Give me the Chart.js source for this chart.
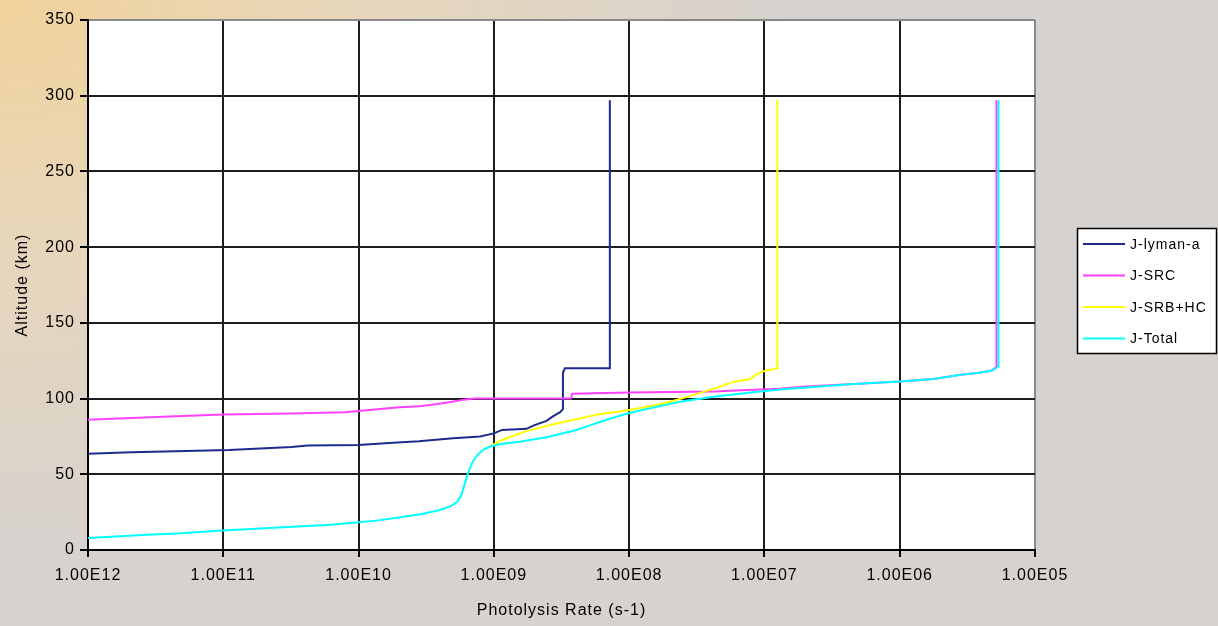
<!DOCTYPE html>
<html>
<head>
<meta charset="utf-8">
<title>Photolysis Rate vs Altitude</title>
<script src="https://cdn.jsdelivr.net/npm/chart.js@4"></script>
<style>
  html, body { margin: 0; padding: 0; overflow: hidden; }
  body {
    width: 1218px; height: 626px;
    background: radial-gradient(ellipse 800px 560px at 0% 0%, #f1d39b 0%, #e7d6bb 45%, #d6d2cf 100%);
  }
  #wrap { position: relative; width: 1218px; height: 626px; }
</style>
</head>
<body>
<div id="wrap"><canvas id="chart"></canvas></div>
<script>
/* ---------- data ---------- */
const X_TICKS = [1e-12, 1e-11, 1e-10, 1e-9, 1e-8, 1e-7, 1e-6, 1e-5];
const X_LABELS = ['1.00E12', '1.00E11', '1.00E10', '1.00E09', '1.00E08', '1.00E07', '1.00E06', '1.00E05'];
const Y_TICKS = [0, 50, 100, 150, 200, 250, 300, 350];

const SERIES_NAMES = ['J-lyman-a', 'J-SRC', 'J-SRB+HC', 'J-Total'];

// J-lyman-a (photolysis rate s-1, altitude km)
const lymanRate = [7.2e-9, 7.2e-9, 3.35e-9, 3.24e-9, 3.24e-9, 3.09e-9, 2.75e-9, 2.45e-9, 2.0e-9, 1.74e-9,
  1.15e-9, 1.0e-9, 7.9e-10, 5.0e-10, 3.55e-10, 2.8e-10, 1.8e-10, 1.0e-10, 4.2e-11, 3.2e-11,
  2.24e-11, 1.1e-11, 2.1e-12, 1e-12];
const lymanAlt = [297, 120, 120, 117, 93, 91, 88.4, 85.3, 82.5, 80,
  79.3, 77, 75, 73.8, 72.6, 71.8, 70.8, 69.3, 69, 68,
  67.3, 66, 64.5, 63.5];

// J-SRC
const srcRate = [1e-12, 3.55e-12, 1e-11, 3.16e-11, 7.9e-11, 1.32e-10, 2.0e-10, 2.82e-10, 3.72e-10, 4.8e-10,
  6.0e-10, 7.1e-10, 3.72e-9, 3.8e-9, 1.0e-8, 4.37e-8, 5.5e-8, 1.29e-7, 2.0e-7, 4.27e-7,
  1.0e-6, 1.78e-6, 2.82e-6, 3.89e-6, 4.79e-6, 5.19e-6, 5.19e-6];
const srcAlt = [86, 88, 89.5, 90.2, 91, 92.8, 94.3, 95, 96.3, 97.8,
  99.3, 100, 100, 103.2, 104, 104.6, 105.2, 106.5, 108, 109.5,
  111.3, 113, 115.8, 117, 118.5, 121, 297];

// J-SRB+HC
const srbRate = [9.3e-10, 1.17e-9, 1.74e-9, 2.75e-9, 4.07e-9, 6.0e-9, 1.0e-8, 1.7e-8, 2.5e-8, 4.47e-8,
  5.9e-8, 7.76e-8, 8.7e-8, 1.0e-7, 1.245e-7, 1.245e-7];
const srbAlt = [68.2, 73, 78.5, 83, 86.3, 89.6, 92.5, 96.2, 100.3, 107.2,
  111, 112.7, 116, 118.2, 120, 297];

// J-Total
const totalRate = [1e-12, 2.75e-12, 4.9e-12, 8.5e-12, 1.38e-11, 3.24e-11, 6.3e-11, 8.7e-11, 1.35e-10, 2.04e-10,
  2.95e-10, 3.98e-10, 4.8e-10, 5.4e-10, 5.8e-10, 6.1e-10, 6.5e-10, 7.0e-10, 7.6e-10, 8.4e-10,
  9.3e-10, 1.12e-9, 1.55e-9, 2.45e-9, 3.9e-9, 5.0e-9, 6.8e-9, 1.0e-8, 1.48e-8, 2.5e-8,
  4.37e-8, 7.9e-8, 1.32e-7, 1.82e-7, 4.27e-7, 1.0e-6, 1.78e-6, 2.82e-6, 3.89e-6, 4.79e-6,
  5.37e-6, 5.37e-6];
const totalAlt = [8, 10, 11, 12.5, 13.6, 15.4, 16.7, 17.8, 19.4, 21.6,
  23.8, 26.4, 29, 32, 37, 44, 52, 58.5, 63, 66.3,
  68.2, 70, 71.5, 74.5, 78.8, 82, 86, 90.5, 94, 98.3,
  101.3, 104, 106, 107, 109.5, 111.3, 113, 115.8, 117, 118.5,
  121, 297];

const COLORS = ['#1c2a8c', '#ff40ff', '#ffff00', '#00ffff'];

/* ---------- helpers ---------- */
function pts(xs, ys){ return xs.map((x, i) => ({ x, y: ys[i] })); }

const FONT = "'Liberation Sans', Arial, sans-serif";

const framePlugin = {
  id: 'frame',
  beforeUpdate(chart){ chart.ctx.letterSpacing = '1px'; },
  beforeDraw(chart){
    const { ctx, chartArea: a } = chart;
    ctx.letterSpacing = '1px';
    ctx.save();
    ctx.fillStyle = '#ffffff';
    ctx.fillRect(a.left, a.top, a.right - a.left, a.bottom - a.top);
    ctx.restore();
  },
  afterDraw(chart){
    // legend box, drawn by hand so it sits where the original one does
    const ctx = chart.ctx;
    ctx.save();
    ctx.fillStyle = '#ffffff';
    ctx.fillRect(1077, 228, 140, 126);
    ctx.strokeStyle = '#000';
    ctx.lineWidth = 1.5;
    ctx.strokeRect(1077.5, 228.5, 139, 125);
    ctx.font = '14px ' + FONT;
    ctx.textBaseline = 'middle';
    ctx.fillStyle = '#000';
    chart.data.datasets.forEach((ds, i) => {
      const y = 244 + i * 31.5;
      ctx.strokeStyle = ds.borderColor;
      ctx.lineWidth = 2;
      ctx.beginPath(); ctx.moveTo(1083, y); ctx.lineTo(1125, y); ctx.stroke();
      ctx.fillText(ds.label, 1130, y + 1);
    });
    ctx.restore();
  }
};

const rates = [lymanRate, srcRate, srbRate, totalRate];
const alts = [lymanAlt, srcAlt, srbAlt, totalAlt];
const drawOrder = [3, 2, 1, 0]; // J-Total on top

new Chart(document.getElementById('chart'), {
  type: 'line',
  data: {
    datasets: SERIES_NAMES.map((name, i) => ({
      label: name,
      data: pts(rates[i], alts[i]),
      borderColor: COLORS[i],
      backgroundColor: COLORS[i],
      borderWidth: 2,
      pointRadius: 0,
      tension: 0,
      fill: false,
      order: drawOrder[i]
    }))
  },
  options: {
    responsive: true,
    maintainAspectRatio: false,
    animation: false,
    layout: { padding: { top: 20, right: 183, bottom: 0, left: 0 } },
    plugins: { legend: { display: false }, tooltip: { enabled: false } },
    scales: {
      x: {
        type: 'logarithmic',
        min: 1e-12, max: 1e-5,
        afterBuildTicks: s => { s.ticks = X_TICKS.map(v => ({ value: v })); },
        afterFit: s => { s.height = 76; },
        ticks: {
          callback: (v, i) => X_LABELS[i],
          color: '#000', font: { family: FONT, size: 16 }, padding: 9,
          maxRotation: 0, autoSkip: false
        },
        grid: {
          color: c => (c.tick && c.tick.value === 1e-5) ? '#8a8a8a' : '#1e1e1e',
          lineWidth: 2, tickLength: 7, tickColor: '#000'
        },
        border: { color: '#000', width: 2 },
        title: {
          display: true, text: 'Photolysis Rate (s-1)', color: '#000',
          font: { family: FONT, size: 16 }, padding: { top: 0, bottom: 6 }
        }
      },
      y: {
        min: 0, max: 350,
        afterBuildTicks: s => { s.ticks = Y_TICKS.map(v => ({ value: v })); },
        afterFit: s => { s.width = 88; },
        ticks: { color: '#000', font: { family: FONT, size: 16 }, padding: 5 },
        grid: {
          color: c => (c.tick && c.tick.value === 350) ? '#8a8a8a' : '#1e1e1e',
          lineWidth: 2, tickLength: 8, tickColor: '#000'
        },
        border: { color: '#000', width: 2 },
        title: {
          display: true, text: 'Altitude (km)', color: '#000',
          font: { family: FONT, size: 16 }, padding: { top: 13, bottom: 0 }
        }
      }
    }
  },
  plugins: [framePlugin]
});
</script>
</body>
</html>
